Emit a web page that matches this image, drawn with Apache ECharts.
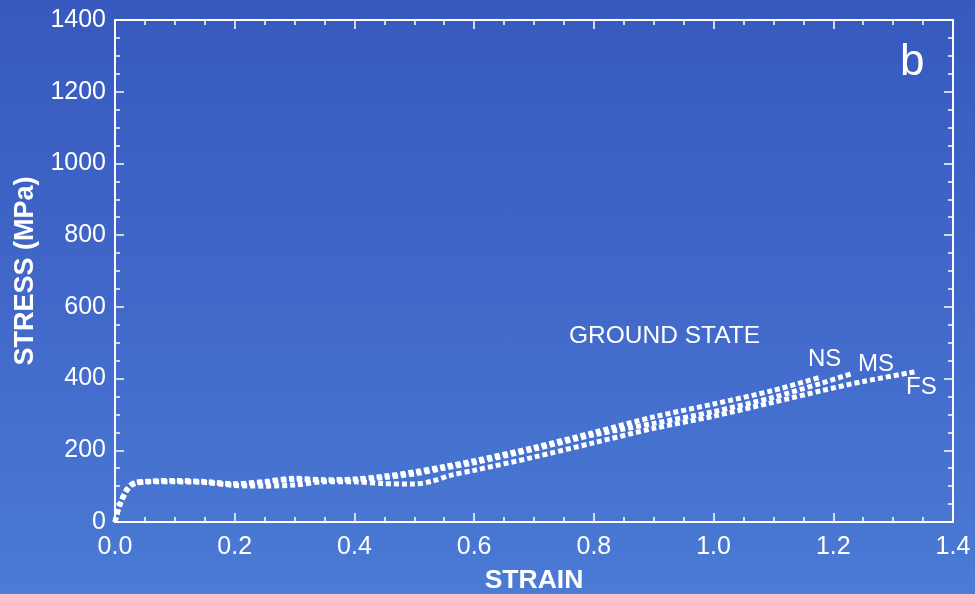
<!DOCTYPE html>
<html>
<head>
<meta charset="utf-8">
<script src="https://cdn.jsdelivr.net/npm/echarts@6/dist/echarts.min.js"></script>
<style>
  html, body { margin: 0; padding: 0; }
  #chart {
    width: 975px; height: 594px;
    background: linear-gradient(to bottom, #3759bf 0%, #4066c8 45%, #4a7bd5 100%);
  }
</style>
</head>
<body>
<div id="chart"></div>
<script>
// Stress-strain curves in the ground state for three specimens (strain, stress in MPa)
const nsCurve = [
  [0, 0], [0.008, 50], [0.02, 92], [0.032, 110], [0.06, 114], [0.1, 116], [0.15, 113],
  [0.2, 107], [0.25, 113], [0.3, 122], [0.35, 118], [0.4, 120], [0.45, 128], [0.5, 140],
  [0.55, 155], [0.6, 171], [0.7, 208], [0.8, 250], [0.9, 293], [1.0, 329], [1.1, 367], [1.18, 405]
];
const msCurve = [
  [0, 0], [0.008, 48], [0.02, 90], [0.032, 108], [0.06, 113], [0.1, 114], [0.15, 111],
  [0.2, 104], [0.25, 110], [0.3, 118], [0.35, 116], [0.4, 117], [0.45, 124], [0.5, 134],
  [0.55, 150], [0.6, 165], [0.7, 203], [0.8, 243], [0.9, 275], [1.0, 308], [1.1, 348],
  [1.18, 387], [1.233, 415]
];
const fsCurve = [
  [0, 0], [0.008, 46], [0.02, 88], [0.032, 106], [0.06, 112], [0.1, 112], [0.15, 110],
  [0.2, 102], [0.25, 100], [0.3, 103], [0.35, 112], [0.4, 112], [0.45, 107], [0.5, 106],
  [0.53, 114], [0.56, 130], [0.6, 144], [0.7, 181], [0.8, 221], [0.9, 261], [1.0, 295],
  [1.1, 334], [1.18, 366], [1.25, 392], [1.337, 419]
];
const seriesNames = ['NS', 'MS', 'FS'];

const xMin = 0, xMax = 1.4, xStep = 0.2;
const yMin = 0, yMax = 1400, yStep = 200;

const white = '#ffffff';
const font = 'Liberation Sans, Arial, Helvetica, sans-serif';

function axisCommon(showLabels) {
  return {
    axisLine: { show: true, onZero: false, lineStyle: { color: white, width: 2 } },
    axisTick: { show: true, inside: true, length: 9, lineStyle: { color: white, width: 1.5 } },
    minorTick: { show: true, splitNumber: 4, length: 5, lineStyle: { color: white, width: 1.5 } },
    splitLine: { show: false },
    axisLabel: { show: showLabels, color: white, fontFamily: font, fontSize: 25 }
  };
}

const chart = echarts.init(document.getElementById('chart'), null, { renderer: 'canvas' });

const lineStyle = { color: white, width: 5, type: [5, 3], cap: 'butt' };

chart.setOption({
  backgroundColor: 'transparent',
  animation: false,
  grid: { left: 115, right: 22, top: 20, bottom: 72, containLabel: false, outerBoundsMode: 'none' },
  xAxis: [
    Object.assign(axisCommon(true), {
      type: 'value', min: xMin, max: xMax, interval: xStep, position: 'bottom',
      name: 'STRAIN', nameLocation: 'middle', nameGap: 45,
      nameTextStyle: { color: white, fontFamily: font, fontSize: 26.5, fontWeight: 'bold' },
      axisLabel: { show: true, color: white, fontFamily: font, fontSize: 25, margin: 13,
        formatter: v => v.toFixed(1) }
    }),
    Object.assign(axisCommon(false), {
      type: 'value', min: xMin, max: xMax, interval: xStep, position: 'top'
    })
  ],
  yAxis: [
    Object.assign(axisCommon(true), {
      type: 'value', min: yMin, max: yMax, interval: yStep, position: 'left',
      name: 'STRESS (MPa)', nameLocation: 'middle', nameGap: 67, nameRotate: 90,
      nameTextStyle: { color: white, fontFamily: font, fontSize: 27, fontWeight: 'bold' },
      axisLabel: { show: true, color: white, fontFamily: font, fontSize: 25, margin: 9,
        formatter: v => String(v) }
    }),
    Object.assign(axisCommon(false), {
      type: 'value', min: yMin, max: yMax, interval: yStep, position: 'right'
    })
  ],
  series: [nsCurve, msCurve, fsCurve].map((d, i) => ({
    name: seriesNames[i],
    type: 'line',
    data: d,
    smooth: 0.3,
    showSymbol: false,
    lineStyle: lineStyle,
    z: 3 - i
  })),
  graphic: [
    { type: 'text', left: 569, top: 324, style: { text: 'GROUND STATE', fill: white, font: '24.5px ' + font } },
    { type: 'text', left: 808, top: 347, style: { text: 'NS', fill: white, font: '24px ' + font } },
    { type: 'text', left: 858, top: 352, style: { text: 'MS', fill: white, font: '24px ' + font } },
    { type: 'text', left: 906, top: 375, style: { text: 'FS', fill: white, font: '24px ' + font } },
    { type: 'text', left: 900, top: 41, style: { text: 'b', fill: white, font: '44px ' + font } }
  ]
});
</script>
</body>
</html>
